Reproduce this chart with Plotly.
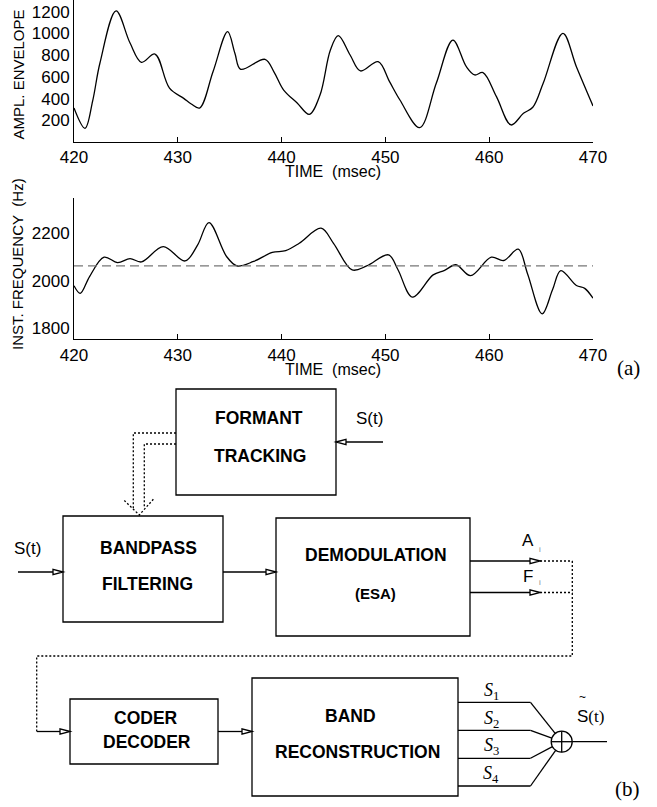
import math
import plotly.graph_objects as go

W, H = 657, 807

# ---------------- data ----------------
t_amp = [420, 421.06, 421.8, 422.5, 424.05, 425.4, 426.5, 427.8, 429.2, 430.6, 431.3,
         432.1, 433.4, 434.8, 435.5, 436.06, 438.4, 439.3, 440.2, 441.5, 442.67, 443.7,
         444.7, 445.46, 446.6, 447.6, 449.3, 450.4, 451.4, 453.3, 454.9, 456.5, 457.8,
         458.6, 459.4, 460.7, 462.1, 463.3, 464.2, 465.2, 467.1, 468.4, 470]
amp = [313, 126, 380, 728, 1208, 912, 735, 811, 497, 400, 350,
       313, 650, 1017, 818, 670, 762, 640, 479, 360, 255, 433,
       848, 980, 802, 655, 740, 556, 387, 132, 541, 940, 694,
       618, 640, 418, 157, 264, 320, 541, 1002, 694, 332]

t_freq = [420, 420.6, 421.5, 422.9, 424.2, 425.4, 426.5, 428.6, 430.7, 431.9, 433,
          434.7, 435.7, 437.3, 439.1, 440.4, 441.7, 443.8, 445, 446.8, 448.2, 450.3,
          451.2, 452.6, 454.6, 455.7, 456.8, 458.2, 460.2, 461.4, 462.8, 463.7, 465.1,
          466.1, 466.9, 468.4, 469.2, 470]
freq = [1978, 1946, 2017, 2099, 2076, 2093, 2079, 2144, 2083, 2150, 2246,
        2102, 2062, 2081, 2119, 2127, 2158, 2222, 2158, 2045, 2062, 2109,
        2047, 1930, 2024, 2043, 2067, 2021, 2099, 2085, 2133, 2028, 1859,
        1961, 2042, 1979, 1967, 1925]
freq_mean = 2062

x_range = [420, 470]
x_ticks = [420, 430, 440, 450, 460, 470]
amp_ticks = [200, 400, 600, 800, 1000, 1200]
freq_ticks = [1800, 2000, 2200]

SANS = "Liberation Sans, Arial, sans-serif"
SERIF = "Liberation Serif, Times New Roman, serif"


def X(px):
    return px / W


def Y(py):
    return 1 - py / H


fig = go.Figure()
fig.add_trace(go.Scatter(x=t_amp, y=amp, mode="lines", xaxis="x", yaxis="y",
                         line=dict(color="black", width=1.3, shape="spline", smoothing=1.0),
                         hoverinfo="skip", showlegend=False))
fig.add_trace(go.Scatter(x=t_freq, y=freq, mode="lines", xaxis="x2", yaxis="y2",
                         line=dict(color="black", width=1.3, shape="spline", smoothing=1.0),
                         hoverinfo="skip", showlegend=False))
fig.add_trace(go.Scatter(x=x_range, y=[freq_mean, freq_mean], mode="lines", xaxis="x2", yaxis="y2",
                         line=dict(color="#777777", width=1.3, dash="9px,5px"),
                         hoverinfo="skip", showlegend=False))

tickfont = dict(family=SANS, size=17, color="black")
xdom = [74 / W, 593 / W]
xcommon = dict(range=x_range, domain=xdom, showline=True, linecolor="black", linewidth=1,
               ticks="inside", ticklen=5, tickcolor="black", tickvals=x_ticks,
               showgrid=False, zeroline=False, tickfont=tickfont, automargin=False)
ycommon = dict(showline=True, linecolor="black", linewidth=1, ticks="", showgrid=False,
               zeroline=False, tickfont=tickfont, automargin=False)

fig.update_layout(
    width=W, height=H, autosize=False,
    margin=dict(l=0, r=0, t=0, b=0, pad=0, autoexpand=False),
    paper_bgcolor="white", plot_bgcolor="white", showlegend=False,
    xaxis=dict(anchor="y", **xcommon),
    yaxis=dict(anchor="x", range=[0, 1309], domain=[Y(142), 1.0], tickvals=amp_ticks, **ycommon),
    xaxis2=dict(anchor="y2", **xcommon),
    yaxis2=dict(anchor="x2", range=[1751, 2350], domain=[Y(339.3), Y(198)], tickvals=freq_ticks, **ycommon),
)

shapes = []
LW = 1.3


def line(x0, y0, x1, y1, dash=None, w=LW):
    d = dict(type="line", xref="paper", yref="paper", x0=X(x0), y0=Y(y0), x1=X(x1), y1=Y(y1),
             line=dict(color="black", width=w))
    if dash:
        d["line"]["dash"] = dash
    shapes.append(d)


def rect(x0, y0, x1, y1):
    shapes.append(dict(type="rect", xref="paper", yref="paper", x0=X(x0), y0=Y(y1), x1=X(x1), y1=Y(y0),
                       line=dict(color="black", width=LW)))


def poly(pts, dash=None, close=False, fill=None):
    p = "M " + " L ".join(f"{X(a):.6f},{Y(b):.6f}" for a, b in pts)
    if close:
        p += " Z"
    d = dict(type="path", xref="paper", yref="paper", path=p, line=dict(color="black", width=LW))
    if dash:
        d["line"]["dash"] = dash
    if fill:
        d["fillcolor"] = fill
    shapes.append(d)


def arrow(x0, x1, y, head=10, hw=2.6):
    s = 1 if x1 > x0 else -1
    base = x1 - s * head
    line(x0, y, base, y)
    poly([(x1, y), (base, y - hw), (base, y + hw)], close=True, fill="white")


DOT = "2px,2px"

# boxes
rect(176, 389, 336, 495)      # formant tracking
rect(63, 516, 223, 622)       # bandpass filtering
rect(276, 518, 470, 636)      # demodulation
rect(70, 699, 218, 764)       # coder decoder
rect(252, 678, 458, 796)      # band reconstruction

# arrows
arrow(383, 336, 442)
arrow(18, 63, 572)
arrow(223, 276, 572)
arrow(470, 540, 561)
arrow(470, 540, 592.5)
arrow(37, 70, 731.5)
arrow(218, 252, 731.5)

# dotted connections
line(540, 561, 572.3, 561, dash=DOT)
line(540, 592.5, 572.3, 592.5, dash=DOT)
poly([(572.3, 561), (572.3, 656), (36.7, 656), (36.7, 731.5)], dash=DOT)

# dotted double arrow formant -> bandpass
poly([(176, 433), (133.3, 433), (133.3, 508)], dash=DOT)
poly([(176, 444), (144.3, 444), (144.3, 508)], dash=DOT)
poly([(124.3, 500.5), (139.3, 515), (154, 498.5)], dash=DOT)

# summation node
cx, cy, r = 561.7, 741.7, 10.5
shapes.append(dict(type="circle", xref="paper", yref="paper", x0=X(cx - r), x1=X(cx + r),
                   y0=Y(cy + r), y1=Y(cy - r), line=dict(color="black", width=LW)))
line(cx - r, cy, cx + r, cy)
line(cx, cy - r, cx, cy + r)
line(cx + r, cy, 607, cy)
for yy in [702.3, 730.3, 758.3, 786]:
    line(458, yy, 530.5, yy)
    dx, dy = cx - 530.5, cy - yy
    L = math.hypot(dx, dy)
    line(530.5, yy, cx - dx / L * r, cy - dy / L * r)

fig.update_layout(shapes=shapes)

ann = []


def txt(t, x, y, size=17, family=SANS, angle=0, color="black", bold=False):
    if bold:
        t = f"<b>{t}</b>"
    ann.append(dict(text=t, x=X(x), y=Y(y), xref="paper", yref="paper", showarrow=False,
                    xanchor="center", yanchor="middle", textangle=angle, borderpad=0,
                    font=dict(family=family, size=size, color=color)))


txt("AMPL. ENVELOPE", 18, 74.5, size=15, angle=-90)
txt("INST. FREQUENCY&nbsp;&nbsp;(Hz)", 18, 264, size=15, angle=-90)
txt("TIME&nbsp;&nbsp;(msec)", 333, 171, size=16)
txt("TIME&nbsp;&nbsp;(msec)", 333, 369, size=16)
txt("(a)", 628, 368, size=21, family=SERIF)
txt("(b)", 627, 789, size=21, family=SERIF)

txt("FORMANT", 259, 418, size=17.5, bold=True)
txt("TRACKING", 260, 456, size=17.5, bold=True)
txt("S(t)", 369, 418)
txt("S(t)", 27.5, 548)
txt("BANDPASS", 148.5, 548, size=17.5, bold=True)
txt("FILTERING", 147.5, 584, size=17.5, bold=True)
txt("DEMODULATION", 376, 555, size=17.5, bold=True)
txt("(ESA)", 375, 593, size=15, bold=True)
txt("A", 528, 540.5)
txt("i", 540, 549, size=8, color="#888888")
txt("F", 528, 576)
txt("i", 540, 582, size=8, color="#888888")
txt("CODER", 145.5, 718, size=17.5, bold=True)
txt("DECODER", 147, 742, size=17.5, bold=True)
txt("BAND", 350, 716, size=17.5, bold=True)
txt("RECONSTRUCTION", 357, 752.3, size=17.5, bold=True)

for i, yy in enumerate([691, 719, 746.5, 774]):
    txt(f"<i>S</i><sub>{i + 1}</sub>", 491, yy, size=18, family=SERIF)

txt("S<span style='font-family:Liberation Serif'>(t)</span>", 590, 716)
txt("~", 582.5, 697, size=12)

fig.update_layout(annotations=ann)

fig.write_html("out.html")
